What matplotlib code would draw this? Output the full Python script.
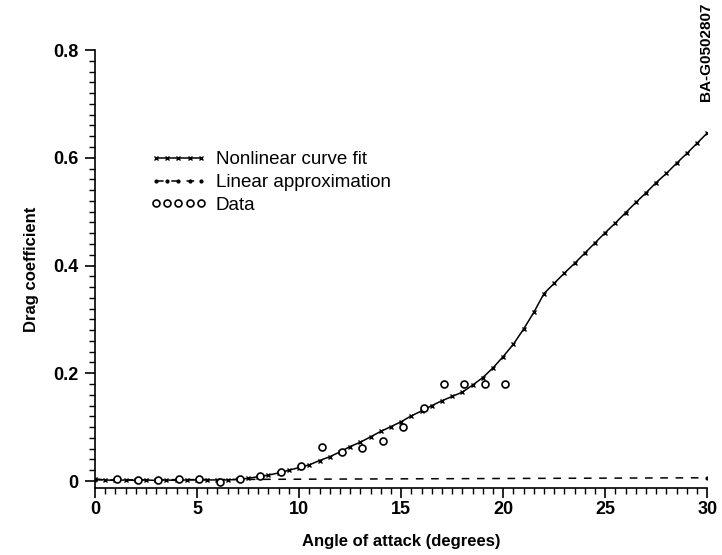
import numpy as np
import matplotlib
matplotlib.use("Agg")
import matplotlib.pyplot as plt
from matplotlib.ticker import MultipleLocator, FuncFormatter

plt.rcParams['font.family'] = ['Liberation Sans', 'DejaVu Sans']

# nonlinear curve fit, one point every half degree
fit_x = np.arange(0, 30.01, 0.5)
fit_y = [0.004, 0.002, 0.001, 0.002, 0.001, 0.002, 0.001, 0.002, 0.001, 0.002,
         0.002, 0.002, 0.002, 0.002, 0.003, 0.005, 0.008, 0.011, 0.015, 0.020,
         0.025, 0.030, 0.038, 0.045, 0.054, 0.064, 0.072, 0.082, 0.092, 0.101,
         0.110, 0.121, 0.130, 0.140, 0.149, 0.157, 0.165, 0.178, 0.192, 0.210,
         0.231, 0.254, 0.282, 0.313, 0.348, 0.367, 0.386, 0.404, 0.423, 0.442,
         0.461, 0.479, 0.498, 0.517, 0.535, 0.554, 0.571, 0.590, 0.608, 0.627,
         0.646]

# linear approximation
lin_x = [0, 30]
lin_y = [0.002, 0.006]

# measured data
data_x = [1.1, 2.1, 3.1, 4.1, 5.1, 6.1, 7.1, 8.1, 9.1, 10.1,
          11.1, 12.1, 13.1, 14.1, 15.1, 16.1, 17.1, 18.1, 19.1, 20.1]
data_y = [0.003, 0.002, 0.002, 0.003, 0.003, -0.002, 0.003, 0.009, 0.016, 0.028,
          0.064, 0.054, 0.062, 0.075, 0.101, 0.135, 0.180, 0.180, 0.180, 0.180]

fig = plt.figure(figsize=(7.22, 5.55), dpi=100)
ax = fig.add_axes([0.1316, 0.1207, 0.848, 0.7892])

ax.plot(fit_x, fit_y, '-', color='black', lw=1.1, marker='x', ms=3.5, mew=1.0,
        label='Nonlinear curve fit')
ax.plot(lin_x, lin_y, '--', color='black', lw=1.1, dashes=(5, 5), marker='.', ms=4,
        label='Linear approximation')
ax.plot(data_x, data_y, 'o', color='black', mfc='white', ms=5, mew=1.2, ls='none',
        label='Data')

ax.set_xlim(0, 30)
ax.set_ylim(-0.013, 0.8)
ax.spines['top'].set_visible(False)
ax.spines['right'].set_visible(False)
ax.spines['left'].set_linewidth(1.2)
ax.spines['bottom'].set_linewidth(1.2)

ax.xaxis.set_major_locator(MultipleLocator(5))
ax.xaxis.set_minor_locator(MultipleLocator(0.5))
ax.yaxis.set_major_locator(MultipleLocator(0.2))
ax.yaxis.set_minor_locator(MultipleLocator(0.02))
ax.yaxis.set_major_formatter(FuncFormatter(lambda v, p: '0' if abs(v) < 1e-9 else f'{v:.1f}'))
ax.tick_params(which='major', direction='out', length=7, width=1.2, labelsize=13, pad=5)
ax.tick_params(axis='x', which='major', pad=2)
ax.tick_params(which='minor', direction='out', length=4, width=1.0)
for t in ax.get_xticklabels() + ax.get_yticklabels():
    t.set_fontweight('bold')

ax.set_xlabel('Angle of attack (degrees)', fontsize=12, fontweight='bold', labelpad=12)
ax.set_ylabel('Drag coefficient', fontsize=12, fontweight='bold', labelpad=10)

ax.legend(loc='upper left', bbox_to_anchor=(0.075, 0.79), frameon=False, fontsize=13.5,
          handlelength=3.0, handletextpad=0.5, labelspacing=0.3, borderpad=0,
          numpoints=5)

fig.text(0.978, 0.995, 'BA-G0502807', rotation=90, ha='center', va='top',
         fontsize=11, fontweight='bold')

fig.savefig('out.png', dpi=100)
